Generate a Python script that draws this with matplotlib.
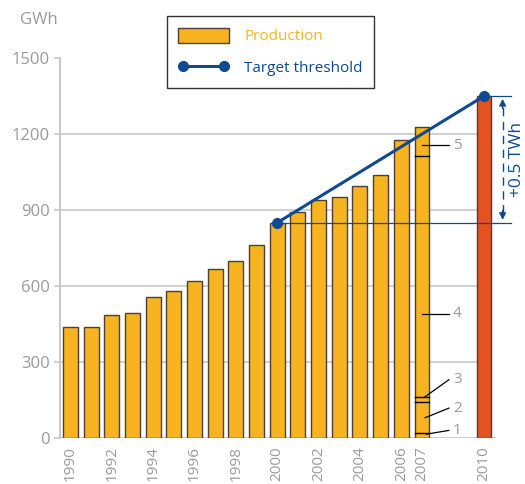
import matplotlib
matplotlib.use("Agg")
import matplotlib.pyplot as plt
from matplotlib.patches import Patch
from matplotlib.lines import Line2D

plt.rcParams['font.family'] = ['Open Sans', 'DejaVu Sans']

years = [1990, 1991, 1992, 1993, 1994, 1995, 1996, 1997, 1998, 1999,
         2000, 2001, 2002, 2003, 2004, 2005, 2006, 2007]
production = [438, 437, 487, 495, 557, 582, 620, 668, 700, 763,
              848, 894, 940, 953, 996, 1039, 1176, 1229]
target_year = 2010
target_value = 1350
threshold_years = [2000, 2010]
threshold_values = [850, 1350]
segment_bounds_2007 = [21, 143, 162, 1113]
segment_labels = ['1', '2', '3', '4', '5']
tick_years = [1990, 1992, 1994, 1996, 1998, 2000, 2002, 2004, 2006, 2007, 2010]
yticks = [0, 300, 600, 900, 1200, 1500]

ORANGE = '#F8B320'
RED = '#E4531F'
EDGE = '#4a4035'
BLUE = '#0D4A91'
GRAY = '#9a9a9a'
GRID = '#c8c8c8'

fig = plt.figure(figsize=(5.25, 4.84), dpi=100)
ax = fig.add_axes([0.114, 0.095, 0.867, 0.785])
ax.set_xlim(1989.49, 2011.5)
ax.set_ylim(0, 1500)

for y in yticks[1:-1]:
    ax.plot([1989.49, 2010], [y, y], color=GRID, lw=1.2, zorder=0)
ax.plot([1989.49, 2010.5], [0, 0], color=GRID, lw=2, zorder=0)

ax.bar(years, production, width=0.72, color=ORANGE, edgecolor=EDGE, lw=1, zorder=2)
ax.bar([target_year], [target_value], width=0.72, color=RED, edgecolor=EDGE, lw=1, zorder=2)

# segment lines in 2007 bar
for b in segment_bounds_2007:
    ax.plot([2007 - 0.36, 2007 + 0.36], [b, b], color='black', lw=1, zorder=3)

# labels with leader lines
lab_pos = [(20, 30), (80, 118), (140, 230), (600, 490), (1150, 1155)]
leader_start = [(2007.2, 15), (2007.15, 80), (2007.1, 160), (2007.0, 490), (2007.0, 1155)]
for lab, (sy, ty), (sx, syy) in zip(segment_labels, lab_pos, leader_start):
    ax.plot([sx, 2008.3], [syy, ty], color='black', lw=0.9, zorder=4)
    ax.text(2008.5, ty, lab, color=GRAY, fontsize=11, va='center', ha='left')

# threshold line
ax.plot(threshold_years, threshold_values, color=BLUE, lw=2.2, marker='o', ms=7, zorder=5)
ax.plot([2000, 2011.3], [threshold_values[0]] * 2, color=BLUE, lw=0.9, zorder=4)
ax.plot([2010, 2011.3], [threshold_values[1]] * 2, color=BLUE, lw=0.9, zorder=4)

# dashed arrow
xa = 2010.9
ax.plot([xa, xa], [threshold_values[0] + 40, threshold_values[1] - 40], color=BLUE, lw=1, ls=(0, (6, 4)), zorder=4)
ax.annotate('', xy=(xa, threshold_values[1]), xytext=(xa, threshold_values[1] - 60),
            arrowprops=dict(arrowstyle='-|>', color=BLUE, lw=1, mutation_scale=10))
ax.annotate('', xy=(xa, threshold_values[0]), xytext=(xa, threshold_values[0] + 60),
            arrowprops=dict(arrowstyle='-|>', color=BLUE, lw=1, mutation_scale=10))
ax.text(2011.2, (threshold_values[0] + threshold_values[1]) / 2, '+0.5 TWh', rotation=90,
        color=BLUE, fontsize=12.5, va='center', ha='left', clip_on=False)

# axes styling
for s in ['top', 'right', 'bottom']:
    ax.spines[s].set_visible(False)
ax.spines['left'].set_color(GRID)
ax.spines['left'].set_linewidth(1.5)
ax.set_yticks(yticks)
ax.set_yticklabels([str(v) for v in yticks], color=GRAY, fontsize=12)
ax.tick_params(axis='y', length=4, color=GRID, width=1.2, pad=3)
ax.set_xticks(tick_years)
ax.set_xticklabels([str(v) for v in tick_years], rotation=90, color=GRAY, fontsize=11)
ax.tick_params(axis='x', length=0, pad=6)
fig.text(0.038, 0.958, 'GWh', color=GRAY, fontsize=12, ha='left', va='center')

handles = [Patch(facecolor=ORANGE, edgecolor=EDGE, lw=1),
           Line2D([0], [0], color=BLUE, lw=2.2, marker='o', ms=7)]
leg = fig.legend(handles, ['Production', 'Target threshold'], loc='upper left',
                 bbox_to_anchor=(0.318, 0.966), borderaxespad=0, frameon=True, fancybox=False,
                 edgecolor='black', fontsize=11, handlelength=3.3, handleheight=1.1,
                 borderpad=0.75, labelspacing=1.0, handletextpad=1.0, numpoints=2)
leg.get_frame().set_linewidth(1)
for t, c in zip(leg.get_texts(), [ORANGE, BLUE]):
    t.set_color(c)

fig.savefig('out.png', dpi=100)
